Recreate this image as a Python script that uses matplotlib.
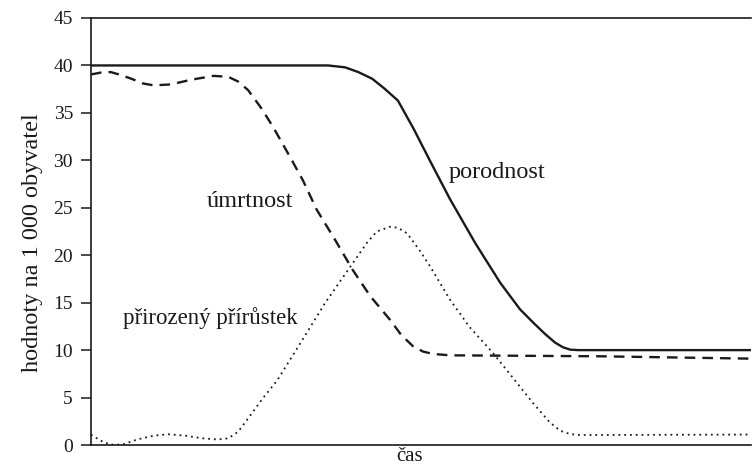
import matplotlib
matplotlib.use('Agg')
import matplotlib.pyplot as plt

plt.rcParams['font.family'] = ['Liberation Serif', 'DejaVu Serif']

# values (time in arbitrary units 0..100)
t_birth = [0.0, 35.9, 38.5, 40.5, 42.6, 44.4, 46.5, 48.9, 51.4, 52.9, 54.4,
           58.2, 62.0, 65.0, 67.0, 68.8, 70.3, 71.5, 72.6, 73.8, 100.0]
birth = [40.0, 40.0, 39.8, 39.3, 38.6, 37.6, 36.3, 33.3, 29.9, 27.9, 25.9,
         21.3, 17.1, 14.3, 12.9, 11.7, 10.8, 10.3, 10.05, 10.0, 10.0]

t_death = [0.0, 1.5, 3.0, 4.5, 6.1, 7.9, 9.5, 12.1, 15.2, 18.6, 20.8, 22.3,
           23.8, 25.8, 27.6, 30.2, 32.1, 34.2, 37.0, 39.7, 42.3, 45.3, 47.0,
           48.8, 50.3, 51.8, 54.4, 77.1, 100.0]
death = [39.05, 39.25, 39.3, 39.0, 38.6, 38.1, 37.9, 38.0, 38.5, 38.9, 38.8, 38.3,
         37.4, 35.5, 33.5, 30.3, 27.9, 24.8, 21.6, 18.4, 15.7, 13.2, 11.6,
         10.4, 9.85, 9.6, 9.45, 9.35, 9.1]

t_growth = [0.0, 0.9, 2.0, 3.5, 5.0, 7.1, 9.5, 11.7, 14.1, 16.7, 19.2, 20.8,
            22.3, 23.8, 25.9, 28.2, 31.7, 35.5, 39.5, 41.8, 43.3, 45.3, 46.5,
            47.9, 49.8, 51.4, 54.4, 57.4, 60.9, 63.9, 67.0, 69.5, 71.1, 72.6,
            74.1, 100.0]
growth = [1.1, 0.7, 0.25, 0.0, 0.1, 0.6, 0.98, 1.13, 1.0, 0.72, 0.58, 0.7,
          1.4, 2.8, 4.8, 6.8, 10.7, 15.0, 19.0, 21.3, 22.5, 23.0, 22.9,
          22.3, 20.5, 18.8, 15.3, 12.4, 9.7, 7.1, 4.4, 2.4, 1.5, 1.15,
          1.05, 1.1]

y_ticks = [0, 5, 10, 15, 20, 25, 30, 35, 40, 45]

fig = plt.figure(figsize=(7.53, 4.66), dpi=100)
ax = fig.add_axes([91 / 753, 21 / 466, 660 / 753, 427 / 466])

ax.plot(t_birth, birth, color='#1a1a1a', lw=1.7, solid_joinstyle='round')
ax.plot(t_death, death, color='#1a1a1a', lw=1.7, dashes=(4.5, 3))
ax.plot(t_growth, growth, color='#1a1a1a', lw=1.3, linestyle=(0, (1, 2.2)))

ax.set_xlim(0, 100)
ax.set_ylim(0, 45)
ax.set_yticks(y_ticks)
ax.set_xticks([])
ax.spines['right'].set_visible(False)
for s in ['left', 'bottom', 'top']:
    ax.spines[s].set_linewidth(1.2)
    ax.spines[s].set_color('#1a1a1a')
ax.tick_params(axis='y', length=7, width=1.1, pad=6, labelsize=14, colors='#1a1a1a')

ax.set_ylabel('hodnoty na 1 000 obyvatel', fontsize=17.5, color='#1a1a1a')
ax.yaxis.set_label_coords(-0.073, 0.473)
ax.set_xlabel('čas', fontsize=15, color='#1a1a1a')
ax.xaxis.set_label_coords((410 - 91) / 660, -0.005)
ax.xaxis.label.set_va('top')

ax.text(54.2, 28.1, 'porodnost', fontsize=17.5, va='baseline', color='#1a1a1a')
ax.text(17.6, 25.1, 'úmrtnost', fontsize=17.5, va='baseline', color='#1a1a1a')
ax.text(4.9, 12.8, 'přirozený přírůstek', fontsize=16.5, va='baseline', color='#1a1a1a')

fig.savefig('out.png', dpi=100)
